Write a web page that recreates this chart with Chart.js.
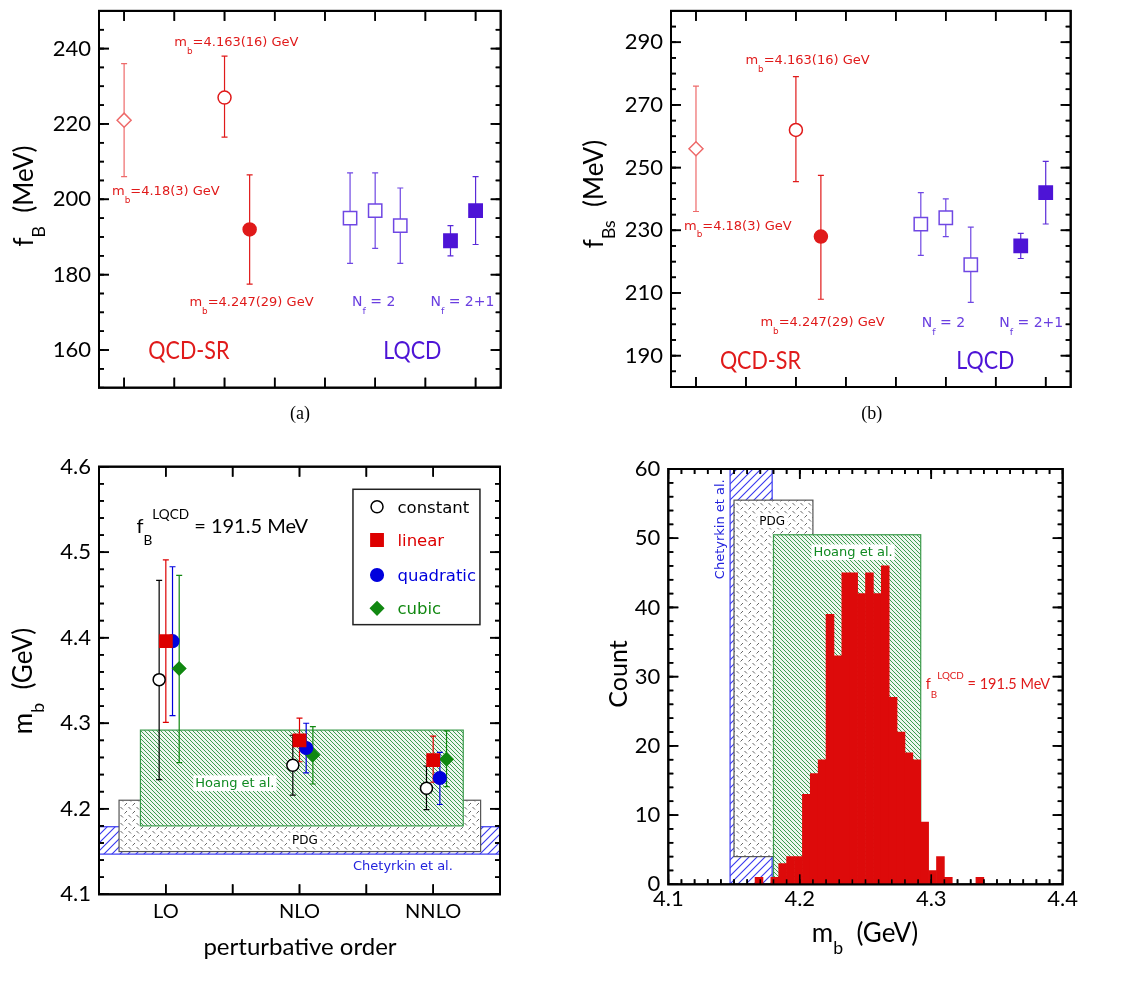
<!DOCTYPE html>
<html>
<head>
<meta charset="utf-8">
<script src="https://cdn.jsdelivr.net/npm/chart.js@4.4.1/dist/chart.umd.min.js"></script>
<style>
  body { margin: 0; background: #fff; width: 1123px; height: 986px; position: relative; overflow: hidden; }
  canvas { position: absolute; }
</style>
</head>
<body>
<canvas id="chartA" style="left:0;top:0" width="560" height="430"></canvas>
<canvas id="chartB" style="left:560px;top:0" width="563" height="430"></canvas>
<canvas id="chartC" style="left:0;top:430px" width="560" height="556"></canvas>
<canvas id="chartD" style="left:560px;top:430px" width="563" height="556"></canvas>
<script>
// --- (a) f_B results: QCD sum rules and lattice ---
const posA  = [1, 3, 3.5, 5.5, 6, 6.5, 7.5, 8];
const fbA   = [221, 227, 192, 195, 197, 193, 189, 197];
const fbAHi = [236, 238, 206.5, 207, 207, 203, 193, 206];
const fbALo = [206, 216.5, 177.5, 183, 187, 183, 185, 188];
const yTicksA = [160, 180, 200, 220, 240];

// --- (b) f_Bs results ---
const posB  = [1, 3, 3.5, 5.5, 6, 6.5, 7.5, 8];
const fbsB   = [256, 262, 228, 232, 234, 219, 225, 242];
const fbsBHi = [276, 279, 247.5, 242, 240, 231, 229, 252];
const fbsBLo = [236, 245.5, 208, 222, 228, 207, 221, 232];
const yTicksB = [190, 210, 230, 250, 270, 290];

// marker kind of each of the 8 results (same order in a and b)
const kindsAB = ['diamond', 'openCircle', 'dot', 'openSq', 'openSq', 'openSq', 'sq', 'sq'];

// --- (c) m_b vs perturbative order ---
const orders = ['LO', 'NLO', 'NNLO'];
const fitNames = ['constant', 'linear', 'quadratic', 'cubic'];
const mbConst   = [4.351, 4.251, 4.224];
const mbConstHi = [4.467, 4.286, 4.250];
const mbConstLo = [4.234, 4.216, 4.199];
const mbLin     = [4.396, 4.280, 4.257];
const mbLinHi   = [4.491, 4.306, 4.285];
const mbLinLo   = [4.301, 4.255, 4.231];
const mbQuad    = [4.396, 4.271, 4.236];
const mbQuadHi  = [4.483, 4.300, 4.266];
const mbQuadLo  = [4.309, 4.242, 4.205];
const mbCub     = [4.364, 4.263, 4.258];
const mbCubHi   = [4.473, 4.296, 4.291];
const mbCubLo   = [4.254, 4.229, 4.226];
const yTicksC = [4.1, 4.2, 4.3, 4.4, 4.5, 4.6];

// reference m_b ranges (GeV)
const chetRange  = [4.147, 4.179];
const pdgRange   = [4.15, 4.21];
const hoangRange = [4.18, 4.292];

// --- (d) histogram of m_b ---
const binCenters = [4.169, 4.175, 4.181, 4.187, 4.193, 4.199, 4.205, 4.211, 4.217, 4.223,
                    4.229, 4.235, 4.241, 4.247, 4.253, 4.259, 4.265, 4.271, 4.277, 4.283,
                    4.289, 4.295, 4.301, 4.307, 4.313, 4.319, 4.325, 4.331, 4.337];
const binCounts  = [1, 0, 1, 3, 4, 4, 13, 16, 18, 39,
                    33, 45, 45, 42, 45, 42, 46, 27, 22, 19,
                    18, 9, 2, 4, 1, 0, 0, 0, 1];
const xTicksD = [4.1, 4.2, 4.3, 4.4];
const yTicksD = [0, 10, 20, 30, 40, 50, 60];

// ---------------------------------------------------------------
const SANS = '"DejaVu Sans", sans-serif';
const LATO = 'Lato, sans-serif';
const RED = '#e01a1a', RED_LIGHT = '#ee6a6a';
const PURPLE = '#4d14d6', PURPLE_OPEN = '#6f47e3', PURPLE_TEXT = '#6a3fe0';
const GREEN_T = '#118a22', BLUE_T = '#2222dd';

const markerStyles = {
  diamond:    { style: 'rectRot', r: 7,   fill: '#fff',  line: RED_LIGHT,   err: RED_LIGHT },
  openCircle: { style: 'circle',  r: 6.5, fill: '#fff',  line: RED,         err: RED },
  dot:        { style: 'circle',  r: 6.5, fill: RED,     line: RED,         err: RED },
  openSq:     { style: 'rect',    r: 9.4, fill: '#fff',  line: PURPLE_OPEN, err: PURPLE_OPEN },
  sq:         { style: 'rect',    r: 9.4, fill: PURPLE,  line: PURPLE,      err: '#5a2ad8' }
};
const fitStyles = [
  { style: 'circle',  r: 6,   fill: '#fff',    line: '#000',    text: '#000' },
  { style: 'rect',    r: 8.7, fill: '#dd0000', line: '#dd0000', text: '#dd0000' },
  { style: 'circle',  r: 6.3, fill: '#0000dd', line: '#0000dd', text: '#0000dd' },
  { style: 'rectRot', r: 6.5, fill: '#118811', line: '#118811', text: '#118811' }
];

function steps(from, to, step) {
  const out = [];
  const n = Math.round((to - from) / step);
  for (let i = 0; i <= n; i++) out.push(+(from + i * step).toFixed(4));
  return out;
}

// text with sub/superscripts: '_x' subscript, '^x' superscript
function rich(ctx, x, y, parts, size, color, opt = {}) {
  const fam = opt.font || SANS;
  const subDy = opt.subDy ?? 0.6, supDy = opt.supDy ?? 0.72;
  const sx = opt.sx || 1;
  ctx.save();
  const pieces = parts.map(p => {
    const mode = p[0] === '_' ? 1 : p[0] === '^' ? 2 : 0;
    const t = mode ? p.slice(1) : p;
    const fs = mode ? size * 0.68 : size;
    ctx.font = fs + 'px ' + fam;
    return { t, mode, fs, w: ctx.measureText(t).width };
  });
  const total = pieces.reduce((s, g) => s + g.w, 0);
  ctx.translate(x, y);
  if (opt.rot) ctx.rotate(opt.rot);
  ctx.scale(sx, 1);
  let cx = opt.align === 'center' ? -total / 2 : 0;
  const base = opt.baseline ? 0 : size * 0.36;
  if (opt.bg) {
    ctx.fillStyle = '#fff';
    ctx.fillRect(cx - 2, base - size * 0.92, total + 4, size * 1.2);
  }
  ctx.fillStyle = color;
  ctx.textAlign = 'left';
  ctx.textBaseline = 'alphabetic';
  pieces.forEach(g => {
    ctx.font = g.fs + 'px ' + fam;
    const dy = g.mode === 1 ? size * subDy : g.mode === 2 ? -size * supDy : 0;
    ctx.fillText(g.t, cx, base + dy);
    cx += g.w;
  });
  ctx.restore();
}

function marker(ctx, st, x, y) {
  ctx.save();
  ctx.fillStyle = st.fill; ctx.strokeStyle = st.line; ctx.lineWidth = 1.5;
  ctx.beginPath();
  if (st.style === 'circle') ctx.arc(x, y, st.r, 0, Math.PI * 2);
  else if (st.style === 'rect') { const h = st.r * Math.SQRT1_2; ctx.rect(x - h, y - h, 2 * h, 2 * h); }
  else { ctx.moveTo(x - st.r, y); ctx.lineTo(x, y - st.r); ctx.lineTo(x + st.r, y); ctx.lineTo(x, y + st.r); ctx.closePath(); }
  ctx.fill(); ctx.stroke();
  ctx.restore();
}

function makePattern(ctx, kind) {
  const c = document.createElement('canvas');
  const g = c.getContext('2d');
  if (kind === 'green') {
    c.width = c.height = 4;
    g.fillStyle = '#eef7ef'; g.fillRect(0, 0, 4, 4);
    g.strokeStyle = '#3f9c50'; g.lineWidth = 1;
    g.beginPath();
    g.moveTo(0, 0); g.lineTo(4, 4); g.moveTo(-1, 3); g.lineTo(1, 5); g.moveTo(3, -1); g.lineTo(5, 1);
    g.stroke();
  } else if (kind === 'blue') {
    c.width = c.height = 8;
    g.fillStyle = '#fff'; g.fillRect(0, 0, 8, 8);
    g.strokeStyle = '#3838f0'; g.lineWidth = 1.1;
    g.beginPath();
    g.moveTo(0, 8); g.lineTo(8, 0); g.moveTo(-1, 1); g.lineTo(1, -1); g.moveTo(7, 9); g.lineTo(9, 7);
    g.stroke();
  } else {
    c.width = c.height = 8;
    g.fillStyle = '#fff'; g.fillRect(0, 0, 8, 8);
    g.strokeStyle = '#666'; g.lineWidth = 1;
    g.beginPath();
    g.moveTo(0.5, 1); g.lineTo(3, 3.5);
    g.moveTo(4.5, 7.5); g.lineTo(7, 5);
    g.stroke();
  }
  return ctx.createPattern(c, 'repeat');
}

// inward ticks on all four sides, clipped to the plot area, then the frame
function drawTicks(chart, cfg) {
  const ctx = chart.ctx, area = chart.chartArea, xs = chart.scales.x, ys = chart.scales.y;
  const left = area.left, right = area.right, top = area.top, bottom = area.bottom;
  ctx.save();
  ctx.beginPath();
  ctx.rect(left, top, right - left, bottom - top);
  ctx.clip();
  ctx.fillStyle = '#000';
  const xList = [[cfg.xMajor, 10], [cfg.xMinor || [], 5]];
  const yList = [[cfg.yMajor, 10], [cfg.yMinor || [], 5]];
  xList.forEach(([vals, len]) => {
    vals.forEach(v => {
      const p = xs.getPixelForValue(v);
      ctx.fillRect(p - 0.8, bottom - len, 1.6, len);
      ctx.fillRect(p - 0.8, top, 1.6, len);
    });
  });
  yList.forEach(([vals, len]) => {
    vals.forEach(v => {
      const p = ys.getPixelForValue(v);
      ctx.fillRect(left, p - 0.8, len, 1.6);
      ctx.fillRect(right - len, p - 0.8, len, 1.6);
    });
  });
  ctx.restore();
  ctx.save();
  ctx.strokeStyle = '#000';
  ctx.lineWidth = 2;
  ctx.strokeRect(left, top, right - left, bottom - top);
  ctx.restore();
}

function makeFrame(cfg) {
  return {
    id: 'frame',
    afterDraw(chart) { drawTicks(chart, cfg); }
  };
}

// bands + error bars under the data, labels/legend/titles above it
function makeDecor(cfg) {
  return {
    id: 'decor',
    beforeDatasetsDraw(chart) {
      const ctx = chart.ctx, area = chart.chartArea, xs = chart.scales.x, ys = chart.scales.y;
      ctx.save();
      ctx.beginPath(); ctx.rect(area.left, area.top, area.right - area.left, area.bottom - area.top); ctx.clip();
      (cfg.bands || []).forEach(b => {
        const x1 = xs.getPixelForValue(b.x[0]), x2 = xs.getPixelForValue(b.x[1]);
        const y1 = ys.getPixelForValue(b.y[1]), y2 = ys.getPixelForValue(b.y[0]);
        ctx.fillStyle = makePattern(ctx, b.kind);
        ctx.fillRect(x1, y1, x2 - x1, y2 - y1);
        ctx.strokeStyle = b.stroke; ctx.lineWidth = 1.2;
        ctx.strokeRect(x1, y1, x2 - x1, y2 - y1);
      });
      ctx.restore();
      drawTicks(chart, cfg);
      ctx.save();
      ctx.lineWidth = 1.2;
      chart.data.datasets.forEach((ds, di) => {
        if (!ds.err) return;
        ctx.strokeStyle = ds.errColor;
        chart.getDatasetMeta(di).data.forEach((pt, i) => {
          const yl = ys.getPixelForValue(ds.err[i][0]), yh = ys.getPixelForValue(ds.err[i][1]);
          ctx.beginPath();
          ctx.moveTo(pt.x, yl); ctx.lineTo(pt.x, yh);
          ctx.moveTo(pt.x - 3, yl); ctx.lineTo(pt.x + 3, yl);
          ctx.moveTo(pt.x - 3, yh); ctx.lineTo(pt.x + 3, yh);
          ctx.stroke();
        });
      });
      ctx.restore();
    },
    afterDraw(chart) {
      const ctx = chart.ctx, xs = chart.scales.x, ys = chart.scales.y;
      (cfg.texts || []).forEach(t => {
        rich(ctx, xs.getPixelForValue(t.x), ys.getPixelForValue(t.y), t.parts, t.size, t.color,
          { font: t.font, align: t.align, bg: t.bg, rot: t.rot, sx: t.sx });
      });
      if (cfg.legend) {
        const L = cfg.legend;
        const x1 = xs.getPixelForValue(L.box[0]), x2 = xs.getPixelForValue(L.box[1]);
        const y1 = ys.getPixelForValue(L.box[3]), y2 = ys.getPixelForValue(L.box[2]);
        ctx.save();
        ctx.fillStyle = '#fff'; ctx.fillRect(x1, y1, x2 - x1, y2 - y1);
        ctx.strokeStyle = '#222'; ctx.lineWidth = 1.5; ctx.strokeRect(x1, y1, x2 - x1, y2 - y1);
        ctx.restore();
        L.names.forEach((n, i) => {
          const yy = ys.getPixelForValue(L.rows[i]);
          marker(ctx, L.styles[i], xs.getPixelForValue(L.markX), yy);
          rich(ctx, xs.getPixelForValue(L.textX), yy, [n], 16.5, L.styles[i].text, {});
        });
      }
      (cfg.titles || []).forEach(t => {
        rich(ctx, t.x, t.y, t.parts, t.size, '#000',
          { font: t.font || LATO, align: 'center', rot: t.rot, baseline: true, subDy: 0.48 });
      });
    }
  };
}

function baseOptions(cfg) {
  return {
    responsive: false,
    animation: false,
    events: [],
    layout: { padding: { top: cfg.area.top, right: cfg.size[0] - cfg.area.right, left: 0, bottom: 0 } },
    plugins: { legend: { display: false }, tooltip: { enabled: false } },
    scales: {
      x: {
        type: 'linear', min: cfg.x[0], max: cfg.x[1], offset: false,
        grid: { display: false, drawTicks: false }, border: { display: false },
        ticks: { display: !!cfg.xFmt, padding: cfg.xPad || 0, autoSkip: false, maxRotation: 0,
                 font: { family: LATO, size: cfg.xSize || 22 }, color: '#000', callback: cfg.xFmt || (v => '') },
        afterBuildTicks: s => { s.ticks = cfg.xLabels.map(v => ({ value: v })); },
        afterFit: s => { s.height = cfg.size[1] - cfg.area.bottom; s.paddingLeft = 0; s.paddingRight = 0; }
      },
      y: {
        type: 'linear', min: cfg.y[0], max: cfg.y[1],
        grid: { display: false, drawTicks: false }, border: { display: false },
        ticks: { padding: 8, autoSkip: false, font: { family: LATO, size: 22 }, color: '#000', callback: cfg.yFmt },
        afterBuildTicks: s => { s.ticks = cfg.yLabels.map(v => ({ value: v })); },
        afterFit: s => { s.width = cfg.area.left; s.paddingTop = 0; s.paddingBottom = 0; }
      }
    }
  };
}

function resultDatasets(pos, val, hi, lo) {
  return pos.map((x, i) => {
    const st = markerStyles[kindsAB[i]];
    return {
      data: [{ x: x, y: val[i] }],
      err: [[lo[i], hi[i]]], errColor: st.err,
      pointStyle: st.style, pointRadius: st.r,
      pointBackgroundColor: st.fill, pointBorderColor: st.line, pointBorderWidth: 1.5,
      showLine: false
    };
  });
}

// ---------- panel (a) ----------
const cfgA = {
  size: [560, 430], area: { left: 99, right: 500.7, top: 5, bottom: 387.7 },
  x: [0.5, 8.5], y: [150, 250], xLabels: steps(1, 8, 1), yLabels: yTicksA,
  yFmt: v => String(v),
  xMajor: steps(1, 8, 1), yMajor: yTicksA, yMinor: steps(150, 250, 5),
  texts: [
    { x: 2.0, y: 241.9, parts: ['m', '_b', '=4.163(16) GeV'], size: 13, color: RED },
    { x: 0.76, y: 202.4, parts: ['m', '_b', '=4.18(3) GeV'], size: 13, color: RED },
    { x: 2.3, y: 173, parts: ['m', '_b', '=4.247(29) GeV'], size: 13, color: RED },
    { x: 5.54, y: 173, parts: ['N', '_f', ' = 2'], size: 14, color: PURPLE_TEXT },
    { x: 7.1, y: 173, parts: ['N', '_f', ' = 2+1'], size: 14, color: PURPLE_TEXT },
    { x: 2.29, y: 160, parts: ['QCD-SR'], size: 25, font: LATO, color: RED, align: 'center', sx: 0.86 },
    { x: 6.74, y: 160, parts: ['LQCD'], size: 25, font: LATO, color: PURPLE, align: 'center', sx: 0.86 }
  ],
  titles: [
    { x: 33, y: 196, parts: ['f', '_B', '  (MeV)'], size: 26, rot: -Math.PI / 2 },
    { x: 300, y: 419, parts: ['(a)'], size: 18, font: '"Liberation Serif", serif' }
  ]
};
new Chart(document.getElementById('chartA'), {
  type: 'scatter',
  data: { datasets: resultDatasets(posA, fbA, fbAHi, fbALo) },
  options: baseOptions(cfgA),
  plugins: [makeFrame(cfgA), makeDecor(cfgA)]
});

// ---------- panel (b) ----------
const cfgB = {
  size: [563, 430], area: { left: 111, right: 510.7, top: 4.7, bottom: 387 },
  x: [0.5, 8.5], y: [180, 300], xLabels: steps(1, 8, 1), yLabels: yTicksB,
  yFmt: v => String(v),
  xMajor: steps(1, 8, 1), yMajor: yTicksB, yMinor: steps(180, 300, 5),
  texts: [
    { x: 1.99, y: 284.6, parts: ['m', '_b', '=4.163(16) GeV'], size: 13, color: RED },
    { x: 0.76, y: 231.7, parts: ['m', '_b', '=4.18(3) GeV'], size: 13, color: RED },
    { x: 2.29, y: 200.8, parts: ['m', '_b', '=4.247(29) GeV'], size: 13, color: RED },
    { x: 5.52, y: 200.8, parts: ['N', '_f', ' = 2'], size: 14, color: PURPLE_TEXT },
    { x: 7.07, y: 200.8, parts: ['N', '_f', ' = 2+1'], size: 14, color: PURPLE_TEXT },
    { x: 2.29, y: 188.5, parts: ['QCD-SR'], size: 25, font: LATO, color: RED, align: 'center', sx: 0.86 },
    { x: 6.79, y: 188.5, parts: ['LQCD'], size: 25, font: LATO, color: PURPLE, align: 'center', sx: 0.86 }
  ],
  titles: [
    { x: 42.7, y: 194, parts: ['f', '_Bs', '  (MeV)'], size: 26, rot: -Math.PI / 2 },
    { x: 311.7, y: 419, parts: ['(b)'], size: 18, font: '"Liberation Serif", serif' }
  ]
};
new Chart(document.getElementById('chartB'), {
  type: 'scatter',
  data: { datasets: resultDatasets(posB, fbsB, fbsBHi, fbsBLo) },
  options: baseOptions(cfgB),
  plugins: [makeFrame(cfgB), makeDecor(cfgB)]
});

// ---------- panel (c) ----------
const fitVals = [mbConst, mbLin, mbQuad, mbCub];
const fitHi = [mbConstHi, mbLinHi, mbQuadHi, mbCubHi];
const fitLo = [mbConstLo, mbLinLo, mbQuadLo, mbCubLo];
const fitOffset = [-0.05, 0, 0.05, 0.1];
const cfgC = {
  size: [560, 556], area: { left: 99, right: 500, top: 36.7, bottom: 464.3 },
  x: [0.5, 3.5], y: [4.1, 4.6], xLabels: [1, 2, 3], yLabels: yTicksC,
  xFmt: v => orders[Math.round(v) - 1], xPad: 5, xSize: 20,
  yFmt: v => v.toFixed(1),
  xMajor: steps(1, 3, 0.5), yMajor: yTicksC, yMinor: steps(4.1, 4.6, 0.02),
  bands: [
    { kind: 'blue', x: [0.5, 3.5], y: chetRange, stroke: '#3838f0' },
    { kind: 'pdg', x: [0.65, 3.355], y: pdgRange, stroke: '#555' },
    { kind: 'green', x: [0.81, 3.225], y: hoangRange, stroke: '#3a9a4a' }
  ],
  texts: [
    { x: 0.78, y: 4.531, parts: ['f', '_B', '^LQCD', ' = 191.5 MeV'], size: 20, font: LATO, color: '#000' },
    { x: 1.22, y: 4.2305, parts: ['Hoang et al.'], size: 13, color: GREEN_T, bg: true },
    { x: 2.04, y: 4.1643, parts: ['PDG'], size: 12, color: '#000', bg: true, align: 'center' },
    { x: 2.40, y: 4.134, parts: ['Chetyrkin et al.'], size: 13, color: BLUE_T }
  ],
  legend: {
    box: [2.40, 3.35, 4.4153, 4.5736], markX: 2.58, textX: 2.733,
    rows: [4.5532, 4.5143, 4.4733, 4.4344], names: fitNames, styles: fitStyles
  },
  titles: [
    { x: 31.7, y: 251, parts: ['m', '_b', '  (GeV)'], size: 26, rot: -Math.PI / 2 },
    { x: 300, y: 525, parts: ['perturbative order'], size: 24 }
  ]
};
new Chart(document.getElementById('chartC'), {
  type: 'scatter',
  data: {
    datasets: fitNames.map((n, k) => ({
      label: n,
      data: orders.map((o, i) => ({ x: i + 1 + fitOffset[k], y: fitVals[k][i] })),
      err: orders.map((o, i) => [fitLo[k][i], fitHi[k][i]]), errColor: fitStyles[k].line,
      pointStyle: fitStyles[k].style, pointRadius: fitStyles[k].r,
      pointBackgroundColor: fitStyles[k].fill, pointBorderColor: fitStyles[k].line, pointBorderWidth: 1.5,
      showLine: false
    }))
  },
  options: baseOptions(cfgC),
  plugins: [makeFrame(cfgC), makeDecor(cfgC)]
});

// ---------- panel (d) ----------
const cfgD = {
  size: [563, 556], area: { left: 108.3, right: 502.7, top: 39, bottom: 454.3 },
  x: [4.1, 4.4], y: [0, 60], xLabels: xTicksD, yLabels: yTicksD,
  xFmt: v => v.toFixed(1), xPad: 1,
  yFmt: v => String(v),
  xMajor: xTicksD, xMinor: steps(4.1, 4.4, 0.01), yMajor: yTicksD, yMinor: steps(0, 60, 2),
  bands: [
    { kind: 'blue', x: chetRange, y: [0, 60], stroke: '#3838f0' },
    { kind: 'pdg', x: pdgRange, y: [4, 55.5], stroke: '#555' },
    { kind: 'green', x: hoangRange, y: [0, 50.5], stroke: '#3a9a4a' }
  ],
  texts: [
    { x: 4.1386, y: 51.3, parts: ['Chetyrkin et al.'], size: 13, color: BLUE_T, align: 'center', rot: -Math.PI / 2 },
    { x: 4.179, y: 52.6, parts: ['PDG'], size: 12, color: '#000', bg: true, align: 'center' },
    { x: 4.2405, y: 48.05, parts: ['Hoang et al.'], size: 13, color: GREEN_T, bg: true, align: 'center' },
    { x: 4.2958, y: 28.9, parts: ['f', '_B', '^LQCD', ' = 191.5 MeV'], size: 14.5, font: LATO, color: RED }
  ],
  titles: [
    { x: 66.7, y: 244, parts: ['Count'], size: 25, rot: -Math.PI / 2 },
    { x: 305, y: 511.7, parts: ['m', '_b', '  (GeV)'], size: 26 }
  ]
};
new Chart(document.getElementById('chartD'), {
  type: 'bar',
  data: {
    datasets: [{
      data: binCenters.map((x, i) => ({ x: x, y: binCounts[i] })),
      backgroundColor: '#dd0a0a', borderWidth: 0,
      barPercentage: 1, categoryPercentage: 1
    }]
  },
  options: baseOptions(cfgD),
  plugins: [makeFrame(cfgD), makeDecor(cfgD)]
});
</script>
</body>
</html>
